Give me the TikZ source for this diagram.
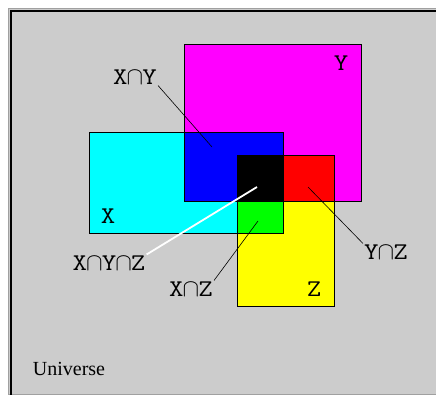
\documentclass[tikz,border=0pt]{standalone}
\usepackage{fontspec}
\setmainfont{Liberation Serif}
\newfontfamily\labmono{Latin Modern Mono}[FakeStretch=1.17]
\usetikzlibrary{calc}
\newcommand{\isect}{\makebox[0.614em]{$\cap$}}
\definecolor{unigray}{RGB}{204,204,204}
\definecolor{edgegray}{RGB}{160,160,160}
\definecolor{setmagenta}{RGB}{255,0,255}
\definecolor{setcyan}{RGB}{0,255,255}
\definecolor{setyellow}{RGB}{255,255,0}
\definecolor{setblue}{RGB}{0,0,255}
\definecolor{setred}{RGB}{255,0,0}
\definecolor{setgreen}{RGB}{0,255,0}
\tikzset{
  setbox/.style={draw=black, line width=0.8pt, inner sep=0pt,
                 anchor=north west},
  part/.style={draw=black, line width=0.8pt},
  lab/.style={font=\labmono\fontsize{24}{24}\selectfont, inner sep=1pt},
  unilab/.style={font=\fontsize{20}{20}\selectfont, inner sep=1pt},
  leader/.style={black, line width=0.6pt},
  whiteleader/.style={white, line width=1.8pt},
}
\begin{document}
\begin{tikzpicture}[x=1pt,y=-1pt]
  \path[use as bounding box, fill=white] (0,0) rectangle (436,395);

  % universe
  \draw[edgegray, line width=0.8pt, fill=unigray] (8,8) rectangle (440,394);
  \draw[black, line width=2.4pt] (11.2,395) -- (11.2,11.2) -- (440,11.2);

  % the three sets
  \node[setbox, fill=setmagenta, minimum width=177pt, minimum height=157pt]
    (setY) at (184,44) {};
  \node[setbox, fill=setcyan, minimum width=194pt, minimum height=101pt]
    (setX) at (89,132) {};
  \node[setbox, fill=setyellow, minimum width=97pt, minimum height=151pt]
    (setZ) at (237,155) {};

  % overlaps
  \draw[part, fill=setblue] (setY.west |- setX.north) rectangle (setX.east |- setY.south);
  \draw[part, fill=setred] (setX.east |- setZ.north) rectangle (setZ.east |- setY.south);
  \draw[part, fill=setgreen] (setZ.west |- setY.south) rectangle (setX.south east);
  \draw[part, fill=black] (setZ.north west) rectangle (setX.east |- setY.south);

  \node[lab] (labY) at (341,63) {Y};
  \node[lab] (labX) at (108,216) {X};
  \node[lab] (labZ) at (314,289) {Z};

  \node[lab] (labXY) at (135,77) {X\isect Y};
  \node[lab] (labXYZ) at (109,263) {X\isect Y\isect Z};
  \node[lab] (labXZ) at (191,289) {X\isect Z};
  \node[lab] (labYZ) at (386,252) {Y\isect Z};

  \coordinate (inXY) at (212,147);
  \coordinate (inXYZ) at (257,187);
  \coordinate (inXZ) at (258,221);
  \coordinate (inYZ) at (308,187);

  \draw[leader] (labXY.south east) -- (inXY);
  \draw[whiteleader] (labXYZ.north east) -- (inXYZ);
  \draw[leader] (labXZ.north east) -- (inXZ);
  \draw[leader] (labYZ.north west) -- (inYZ);

  \node[unilab] (universe) at (69,369) {Universe};
\end{tikzpicture}
\end{document}
